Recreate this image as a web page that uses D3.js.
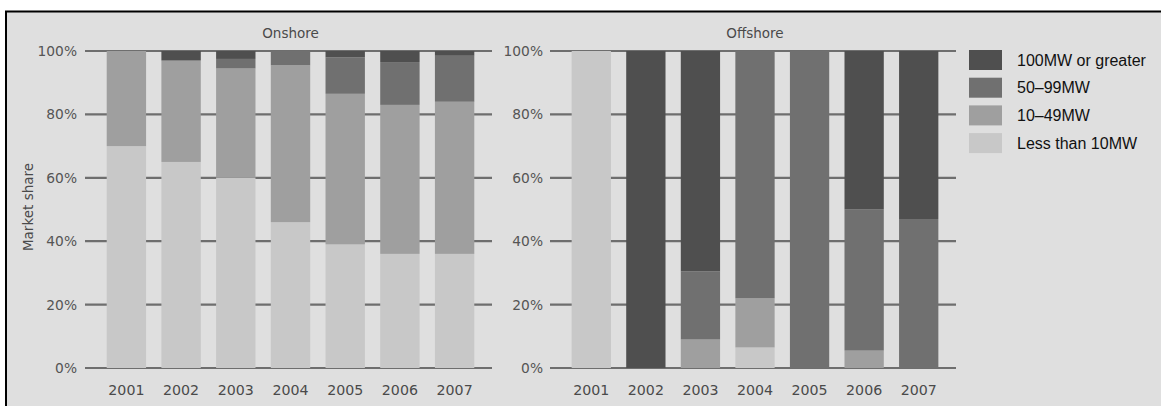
<!DOCTYPE html>
<html><head><meta charset="utf-8">
<script src="https://cdn.jsdelivr.net/npm/d3@7"></script>
<style>html,body{margin:0;padding:0;background:#fff;}svg{display:block;}</style>
</head><body>
<svg id="c" width="1161" height="406"></svg>
<script>
const years = ["2001","2002","2003","2004","2005","2006","2007"];
const seriesNames = ["Less than 10MW","10–49MW","50–99MW","100MW or greater"];
const legendOrder = ["100MW or greater","50–99MW","10–49MW","Less than 10MW"];
const yTicks = [0,20,40,60,80,100];
// Onshore shares (%) per year
const onLess10 = [70,65,60,46,39,36,36];
const on10to49 = [30,32,34.5,49.5,47.5,47,48];
const on50to99 = [0,0,3,4.5,11.5,13.5,14.5];
const on100plus = [0,3,2.5,0,2,3.5,1.5];
// Offshore shares (%) per year
const offLess10 = [100,0,0,6.5,0,0,0];
const off10to49 = [0,0,9,15.5,0,5.5,0];
const off50to99 = [0,0,21.5,78,100,44.5,47];
const off100plus = [0,100,69.5,0,0,50,53];

const colors = {"Less than 10MW":"#c8c8c8","10–49MW":"#9f9f9f","50–99MW":"#707070","100MW or greater":"#4f4f4f"};
const axFont = "DejaVu Sans, Verdana, sans-serif";

const svg = d3.select("#c");
svg.append("rect").attr("x",6).attr("y",12).attr("width",1155).attr("height",394).attr("fill","#dfdfdf");
svg.append("line").attr("x1",5).attr("x2",1161).attr("y1",11.5).attr("y2",11.5).attr("stroke","#000").attr("stroke-width",2);
svg.append("line").attr("x1",6).attr("x2",6).attr("y1",11).attr("y2",406).attr("stroke","#000").attr("stroke-width",2);

function toRows(a,b,c,d){
  return years.map((y,i)=>({year:y,"Less than 10MW":a[i],"10–49MW":b[i],"50–99MW":c[i],"100MW or greater":d[i]}));
}
const stack = d3.stack().keys(seriesNames);

function panel(x0,x1,title,rows,labelRight){
  const y = d3.scaleLinear().domain([0,100]).range([368,51]);
  const x = d3.scaleBand().domain(years).range([x0+2,x1+2]).paddingInner(0.28).paddingOuter(0.36);
  const g = svg.append("g");
  g.selectAll("line.grid").data(yTicks).join("line")
    .attr("x1",x0).attr("x2",x1).attr("y1",d=>y(d)).attr("y2",d=>y(d))
    .attr("stroke","#6e6e6e").attr("stroke-width",2.2);
  g.selectAll("text.tk").data(yTicks).join("text")
    .attr("x",labelRight).attr("y",d=>y(d)).attr("dy","0.36em").attr("text-anchor","end")
    .attr("font-family",axFont).attr("font-size",13.8).attr("fill","#555")
    .text(d=>d+"%");
  const series = stack(rows);
  g.selectAll("g.s").data(series).join("g").attr("fill",d=>colors[d.key])
    .selectAll("rect").data(d=>d).join("rect")
    .attr("x",d=>x(d.data.year)).attr("width",x.bandwidth())
    .attr("y",d=>y(d[1])).attr("height",d=>y(d[0])-y(d[1]));
  g.selectAll("text.xl").data(years).join("text")
    .attr("x",d=>x(d)+x.bandwidth()/2).attr("y",395).attr("text-anchor","middle")
    .attr("font-family",axFont).attr("font-size",14.2).attr("fill","#4a4a4a")
    .text(d=>d);
  g.append("text").attr("x",(x0+x1)/2+2).attr("y",37.5).attr("text-anchor","middle")
    .attr("font-family",axFont).attr("font-size",13.5).attr("fill","#4a4a4a")
    .text(title);
}
panel(85,492,"Onshore",toRows(onLess10,on10to49,on50to99,on100plus),77);
panel(550,956,"Offshore",toRows(offLess10,off10to49,off50to99,off100plus),543);

svg.append("text").attr("transform","translate(33,207) rotate(-90)").attr("text-anchor","middle")
  .attr("font-family",axFont).attr("font-size",13.5).attr("fill","#4a4a4a")
  .text("Market share");

const lg = svg.append("g");
lg.selectAll("rect").data(legendOrder).join("rect")
  .attr("x",969).attr("y",(d,i)=>50+i*27.7).attr("width",33).attr("height",20).attr("fill",d=>colors[d]);
lg.selectAll("text").data(legendOrder).join("text")
  .attr("x",1017).attr("y",(d,i)=>60+i*27.7).attr("dy","0.36em")
  .attr("font-family","Liberation Sans, Arial, sans-serif").attr("font-size",16).attr("fill","#111")
  .text(d=>d);
</script>
</body></html>
